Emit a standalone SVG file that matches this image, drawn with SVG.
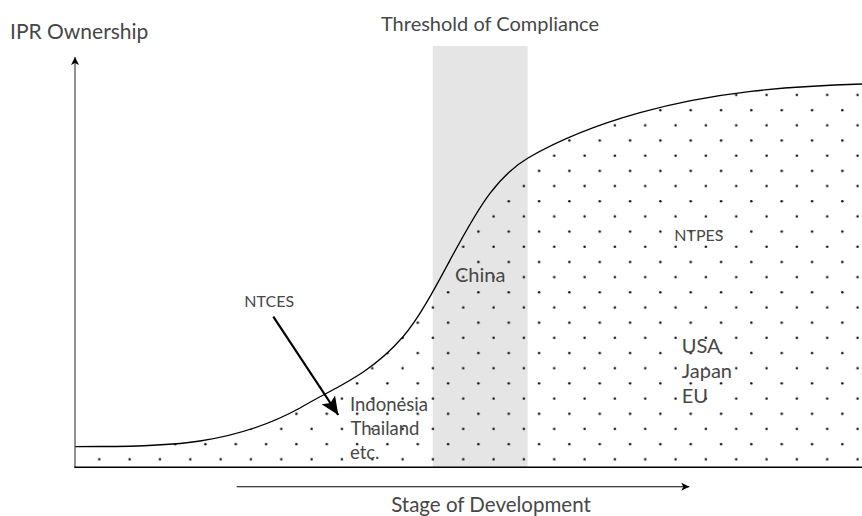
<svg xmlns="http://www.w3.org/2000/svg" width="862" height="516" viewBox="0 0 862 516">
  <style>
    .lbl { font-family: Lato, "Open Sans", "Liberation Sans", sans-serif; font-weight: 400; fill: #474747; }
    .curve { fill: none; stroke: #000; stroke-width: 1.3; }
    .axis { stroke: #000; stroke-width: 1.5; fill: none; }
  </style>
  <defs>
    <pattern id="dots" patternUnits="userSpaceOnUse" x="91.7" y="451.7" width="30.33" height="30.36">
      <circle cx="7.6" cy="7.6" r="1.25" fill="#111"/>
      <circle cx="22.77" cy="22.78" r="1.25" fill="#111"/>
    </pattern>
    <marker id="headSmall" viewBox="0 0 10 10" refX="10" refY="5" markerWidth="11" markerHeight="8" markerUnits="userSpaceOnUse" orient="auto">
      <path d="M0,0 L10,5 L0,10 L2.5,5 Z" fill="#000"/>
    </marker>
    <marker id="headBig" viewBox="0 0 10 10" refX="10" refY="5" markerWidth="18" markerHeight="16" markerUnits="userSpaceOnUse" orient="auto" preserveAspectRatio="none">
      <path d="M0,0 L10,5 L0,10 L2,5 Z" fill="#000"/>
    </marker>
  </defs>

  <g id="threshold-band">
    <rect x="432.7" y="46" width="95" height="421" fill="#e5e5e5"/>
  </g>

  <g id="area">
    <path fill="url(#dots)" d="M75,446.7 L100,446.5 C166.7,446.5 233.3,444.7 300,408 C334.3,387.4 368.7,376.1 403,336.7 C432,303.4 461,231 490,193.3 C502.7,176.8 515.3,165.4 528,158 C565.3,136.4 602.7,123.1 640,112.7 C714,92 788,86.2 862,84 L862,467 L75,467 Z"/>
    <path class="curve" d="M75,446.7 L100,446.5 C166.7,446.5 233.3,444.7 300,408 C334.3,387.4 368.7,376.1 403,336.7 C432,303.4 461,231 490,193.3 C502.7,176.8 515.3,165.4 528,158 C565.3,136.4 602.7,123.1 640,112.7 C714,92 788,86.2 862,84"/>
  </g>

  <g id="connectors">
    <line x1="75" y1="467" x2="75" y2="57" stroke="#555" stroke-width="1.3" marker-end="url(#headSmall)"/>
    <line class="axis" x1="74.3" y1="467.3" x2="862" y2="467.3"/>
    <line x1="236.7" y1="486.7" x2="689.3" y2="486.7" stroke="#000" stroke-width="1.1" marker-end="url(#headSmall)"/>
    <line x1="273.3" y1="316.7" x2="338.3" y2="415" stroke="#000" stroke-width="2.2" marker-end="url(#headBig)"/>
  </g>

  <g id="label-ipr"><text class="lbl" x="10" y="39" font-size="21">IPR Ownership</text></g>
  <g id="label-threshold"><text class="lbl" x="490" y="31" font-size="20" text-anchor="middle">Threshold of Compliance</text></g>
  <g id="label-stage"><text class="lbl" x="491" y="511.7" font-size="20.5" text-anchor="middle">Stage of Development</text></g>
  <g id="label-ntces"><text class="lbl" x="244.3" y="307.3" font-size="16">NTCES</text></g>
  <g id="label-ntpes"><text class="lbl" x="674.3" y="240.7" font-size="16">NTPES</text></g>
  <g id="label-china"><text class="lbl" x="455" y="281.7" font-size="20">China</text></g>
  <g id="label-indonesia">
    <text class="lbl" x="350" y="410.7" font-size="18.5">Indonesia</text>
    <text class="lbl" x="350.5" y="435" font-size="18.5">Thailand</text>
    <text class="lbl" x="350" y="459.3" font-size="18.5">etc.</text>
  </g>
  <g id="label-usa">
    <text class="lbl" x="681.7" y="353.3" font-size="20">USA</text>
    <text class="lbl" x="681.7" y="378" font-size="20">Japan</text>
    <text class="lbl" x="681.7" y="403" font-size="20">EU</text>
  </g>
</svg>
